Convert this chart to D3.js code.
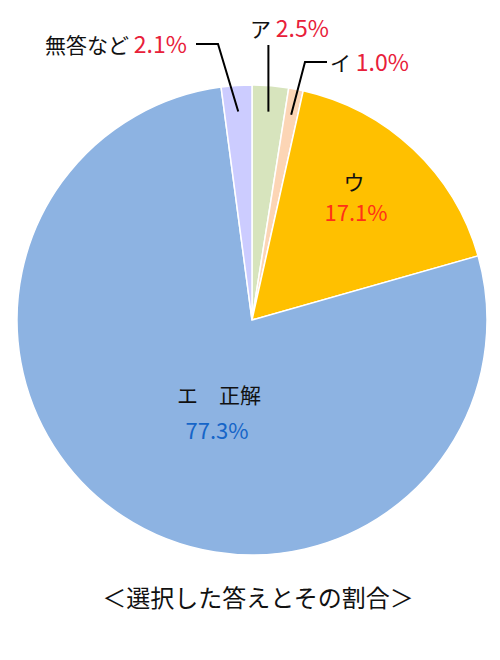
<!DOCTYPE html>
<html>
<head>
<meta charset="utf-8">
<script src="https://cdn.jsdelivr.net/npm/d3@7"></script>
<style>
  body { margin: 0; background: #fff; }
  svg text { font-family: "Noto Sans CJK JP", "Noto Sans", sans-serif; }
</style>
</head>
<body>
<svg id="chart"></svg>
<script>
// data
const categories = ["ア", "イ", "ウ", "エ", "無答など"];
const shares = [2.5, 1.0, 17.1, 77.3, 2.1];
const sliceColors = ["#d7e4bd", "#fcd5b5", "#ffc000", "#8db3e2", "#ccccff"];
const titleText = "＜選択した答えとその割合＞";

const width = 500, height = 660;
const cx = 252, cy = 320, radius = 235;

const svg = d3.select("#chart")
	.attr("width", width)
	.attr("height", height);

const g = svg.append("g")
	.attr("transform", "translate(" + cx + "," + cy + ")");

const pie = d3.pie().sort(null).value(d => d);
const arcs = pie(shares);

const arc = d3.arc().innerRadius(0).outerRadius(radius);
const anchorArc = d3.arc().innerRadius(209).outerRadius(209);

g.selectAll("path.slice")
	.data(arcs)
	.enter()
	.append("path")
	.attr("class", "slice")
	.attr("d", arc)
	.attr("fill", (d, i) => sliceColors[i])
	.attr("stroke", "#fff")
	.attr("stroke-width", 1.5);

function pct(v) { return v.toFixed(1) + "%"; }

// outside labels with leader lines
const outside = [
	{ i: 0, elbow: null, lineEnd: [270 - cx, 45 - cy], tx: 250, ty: 37 },
	{ i: 1, elbow: [305 - cx, 62 - cy], lineEnd: [327 - cx, 62 - cy], tx: 330, ty: 71 },
	{ i: 4, elbow: [218 - cx, 44 - cy], lineEnd: [196 - cx, 44 - cy], tx: 45, ty: 53 }
];

outside.forEach(function (o) {
	const p = anchorArc.centroid(arcs[o.i]);
	const pts = [p];
	if (o.elbow) pts.push(o.elbow);
	pts.push(o.i === 0 ? [p[0], o.lineEnd[1]] : o.lineEnd);
	g.append("path")
		.attr("d", d3.line()(pts))
		.attr("fill", "none")
		.attr("stroke", "#000")
		.attr("stroke-width", 2);

	const t = svg.append("text")
		.attr("x", o.tx)
		.attr("y", o.ty)
		.attr("font-size", 21);
	t.append("tspan").attr("fill", "#111").text(categories[o.i] + " ");
	t.append("tspan").attr("fill", "#e8203a").attr("font-size", 23).text(pct(shares[o.i]));
});

// inside labels
svg.append("text")
	.attr("x", 354).attr("y", 190)
	.attr("text-anchor", "middle")
	.attr("font-size", 21)
	.attr("fill", "#111")
	.text(categories[2]);
svg.append("text")
	.attr("x", 356).attr("y", 221)
	.attr("text-anchor", "middle")
	.attr("font-size", 22)
	.attr("fill", "#ff3018")
	.text(pct(shares[2]));

svg.append("text")
	.attr("x", 219).attr("y", 403)
	.attr("text-anchor", "middle")
	.attr("font-size", 21)
	.attr("fill", "#111")
	.text(categories[3] + "　正解");
svg.append("text")
	.attr("x", 217).attr("y", 439)
	.attr("text-anchor", "middle")
	.attr("font-size", 22)
	.attr("fill", "#1565c8")
	.text(pct(shares[3]));

svg.append("text")
	.attr("x", 258).attr("y", 607)
	.attr("text-anchor", "middle")
	.attr("font-size", 24)
	.attr("fill", "#111")
	.text(titleText);
</script>
</body>
</html>
